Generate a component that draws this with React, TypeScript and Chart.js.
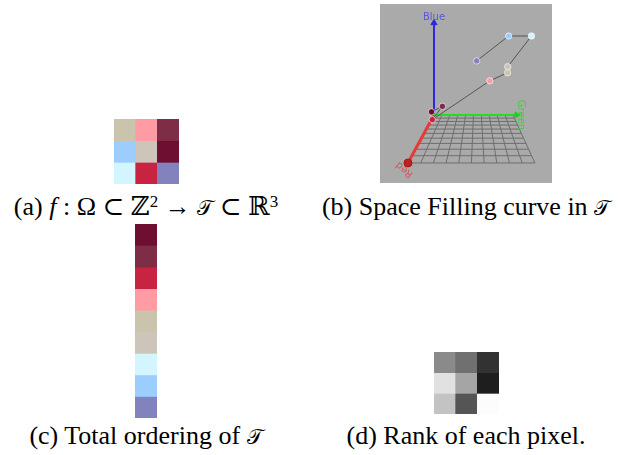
import React, { useEffect, useRef } from "react";
import { Chart, registerables } from "chart.js";

Chart.register(...registerables);

// RGB values of the nine pixels of the 3x3 image, row by row
const pixelRGB: [number, number, number][] = [
  [202, 196, 172], [255, 155, 165], [125, 45, 70],
  [155, 205, 255], [205, 196, 186], [110, 15, 50],
  [210, 245, 255], [200, 35, 65], [130, 130, 190],
];

// rank of every pixel along the space filling curve (1 = first)
const pixelRank = [5, 4, 2, 8, 6, 1, 7, 3, 9];

// grey level used to show each rank 1..9
const rankGray = [30, 50, 85, 112, 138, 165, 195, 225, 252];

const GRID_COLS = 3;

// camera used for the RGB cube view: floor is the Red/Green plane, Blue points up
const cam = { cx: 96.8, cy: 32, f: 209, zc: 2.646, xc: 0.542, yc: 1, greenScale: 1.06 };
const floorGreenEnd = 0.943;
const greenAxisEnd = 0.99;
const blueAxisEnd = 1.165;
const floorDivisions = 10;

const axisLabels = [
  { text: "Red", at: [1.08, 0, 0], color: "#d25a5a", rotate: 220 },
  { text: "Green", at: [0, 1.04, 0], color: "#46c846", rotate: 90 },
  { text: "Blue", at: [0, 0, 1.23], color: "#5a5ad2", rotate: 0 },
];

const css = (c: number[]) => `rgb(${c[0]},${c[1]},${c[2]})`;

function project(r: number, g: number, b: number) {
  const s = cam.f / (cam.zc - r);
  return { x: cam.cx + s * (g * cam.greenScale - cam.xc), y: cam.cy + s * (cam.yc - b) };
}

const pixelOrder = pixelRank
  .map((rank, i) => ({ rank, i }))
  .sort((a, b) => a.rank - b.rank)
  .map((o) => o.i);

function toRows<T>(list: T[], cols: number): T[][] {
  const rows: T[][] = [];
  for (let i = 0; i < list.length; i += cols) rows.push(list.slice(i, i + cols));
  return rows;
}

const baseOptions = {
  responsive: false,
  maintainAspectRatio: false,
  animation: false as const,
  devicePixelRatio: 1,
  events: [] as any[],
  layout: { padding: 0, autoPadding: false },
  plugins: { legend: { display: false }, tooltip: { enabled: false }, title: { display: false } },
};

// a block of coloured cells drawn as stacked unit bars
function cellConfig(rows: string[][]): any {
  return {
    type: "bar",
    data: {
      labels: rows[0].map((_, i) => String(i)),
      datasets: rows.map((colors) => ({
        data: colors.map(() => 1),
        backgroundColor: colors,
        borderWidth: 0,
        barPercentage: 1,
        categoryPercentage: 1,
      })),
    },
    options: {
      ...baseOptions,
      scales: {
        x: { stacked: true, display: false },
        y: { stacked: true, display: false, reverse: true, min: 0, max: rows.length },
      },
    },
  };
}

function line3d(a: number[], b: number[], color: string, width: number, order: number) {
  return {
    data: [project(a[0], a[1], a[2]), project(b[0], b[1], b[2])],
    showLine: true,
    borderColor: color,
    borderWidth: width,
    pointRadius: 0,
    order,
  };
}

function cubeConfig(width: number, height: number): any {
  const datasets: any[] = [];
  // space filling curve through the pixel colours
  const curve = pixelOrder.map((i) => pixelRGB[i]);
  datasets.push({
    data: curve.map((c) => project(c[0] / 255, c[1] / 255, c[2] / 255)),
    showLine: true,
    borderColor: "#555555",
    borderWidth: 1,
    pointRadius: 3.2,
    pointBackgroundColor: curve.map(css),
    pointBorderColor: "rgba(255,255,255,0.6)",
    pointBorderWidth: 1,
    order: 0,
  });
  // arrow heads
  const o = [0, 0, 0];
  datasets.push({
    data: [project(1, 0, 0)],
    pointStyle: "circle",
    pointRadius: 4,
    pointBackgroundColor: "#c0201e",
    pointBorderColor: "#a51818",
    order: 1,
  });
  datasets.push({
    data: [project(0, greenAxisEnd, 0)],
    pointStyle: "triangle",
    rotation: 90,
    pointRadius: 3.5,
    pointBackgroundColor: "#1fcf1f",
    pointBorderColor: "#1fcf1f",
    order: 1,
  });
  datasets.push({
    data: [project(0, 0, blueAxisEnd)],
    pointStyle: "triangle",
    rotation: 0,
    pointRadius: 3.5,
    pointBackgroundColor: "#2828e0",
    pointBorderColor: "#2828e0",
    order: 1,
  });
  // axes
  datasets.push(line3d(o, [1, 0, 0], "#e33a3a", 3, 2));
  datasets.push(line3d(o, [0, greenAxisEnd, 0], "#22dd22", 2, 2));
  datasets.push(line3d(o, [0, 0, blueAxisEnd], "#2a2ae6", 2, 2));
  // floor grid
  for (let k = 0; k <= floorDivisions; k++) {
    const t = k / floorDivisions;
    datasets.push(line3d([t, 0, 0], [t, floorGreenEnd, 0], "#6e6e6e", 1, 3));
    datasets.push(line3d([0, t * floorGreenEnd, 0], [1, t * floorGreenEnd, 0], "#6e6e6e", 1, 3));
  }

  const backdrop = {
    id: "backdrop",
    beforeDraw(chart: any) {
      const { ctx, chartArea } = chart;
      ctx.save();
      ctx.fillStyle = "#aaaaaa";
      ctx.fillRect(chartArea.left, chartArea.top, chartArea.right - chartArea.left, chartArea.bottom - chartArea.top);
      ctx.restore();
    },
  };
  const labels = {
    id: "axisLabels",
    afterDatasetsDraw(chart: any) {
      const { ctx, scales } = chart;
      ctx.save();
      ctx.font = '10px "DejaVu Sans"';
      ctx.textAlign = "center";
      ctx.textBaseline = "middle";
      for (const l of axisLabels) {
        const p = project(l.at[0], l.at[1], l.at[2]);
        ctx.save();
        ctx.translate(scales.x.getPixelForValue(p.x), scales.y.getPixelForValue(p.y));
        ctx.rotate((l.rotate * Math.PI) / 180);
        ctx.fillStyle = l.color;
        ctx.fillText(l.text, 0, 0);
        ctx.restore();
      }
      ctx.restore();
    },
  };

  return {
    type: "scatter",
    data: { datasets },
    options: {
      ...baseOptions,
      scales: {
        x: { type: "linear", display: false, min: 0, max: width },
        y: { type: "linear", display: false, min: 0, max: height, reverse: true },
      },
    },
    plugins: [backdrop, labels],
  };
}

function ChartBox(props: { left: number; top: number; width: number; height: number; make: () => any }) {
  const ref = useRef<HTMLCanvasElement>(null);
  useEffect(() => {
    const chart = new Chart(ref.current as HTMLCanvasElement, props.make());
    return () => chart.destroy();
  }, []);
  return (
    <div style={{ position: "absolute", left: props.left, top: props.top, width: props.width, height: props.height }}>
      <canvas ref={ref} width={props.width} height={props.height} style={{ display: "block" }} />
    </div>
  );
}

const captionStyle: React.CSSProperties = {
  position: "absolute",
  textAlign: "center",
  whiteSpace: "nowrap",
  fontFamily: '"Liberation Serif", "DejaVu Serif", serif',
  fontSize: 26,
  lineHeight: "30px",
  color: "#000",
};

const script: React.CSSProperties = { fontFamily: '"DejaVu Serif", "DejaVu Sans", serif', fontSize: 21 };
const sup: React.CSSProperties = { fontSize: 17, verticalAlign: "0.45em", lineHeight: 0 };

export default function App() {
  const pixelCss = pixelRGB.map(css);
  const imageRows = toRows(pixelCss, GRID_COLS);
  const orderRows = pixelOrder.map((i) => [pixelCss[i]]);
  const rankRows = toRows(pixelRank.map((r) => css([rankGray[r - 1], rankGray[r - 1], rankGray[r - 1]])), GRID_COLS);

  return (
    <div style={{ position: "fixed", left: 0, top: 0, width: 619, height: 455, background: "#fff", overflow: "hidden" }}>
      <ChartBox left={114} top={119} width={65} height={65} make={() => cellConfig(imageRows)} />
      <ChartBox left={380} top={4} width={172} height={179} make={() => cubeConfig(172, 179)} />
      <ChartBox left={135} top={224} width={22} height={194} make={() => cellConfig(orderRows)} />
      <ChartBox left={434} top={352} width={65} height={62} make={() => cellConfig(rankRows)} />

      <div style={{ ...captionStyle, left: -4, width: 300, top: 192 }}>
        (a) <i>f</i> : Ω ⊂ ℤ<span style={sup}>2</span> → <span style={script}>𝒯</span> ⊂ ℝ<span style={sup}>3</span>
      </div>
      <div style={{ ...captionStyle, left: 312, width: 308, top: 192 }}>
        (b) Space Filling curve in <span style={script}>𝒯</span>
      </div>
      <div style={{ ...captionStyle, left: -4, width: 300, top: 421 }}>
        (c) Total ordering of <span style={script}>𝒯</span>
      </div>
      <div style={{ ...captionStyle, left: 312, width: 308, top: 421 }}>
        (d) Rank of each pixel.
      </div>
    </div>
  );
}
